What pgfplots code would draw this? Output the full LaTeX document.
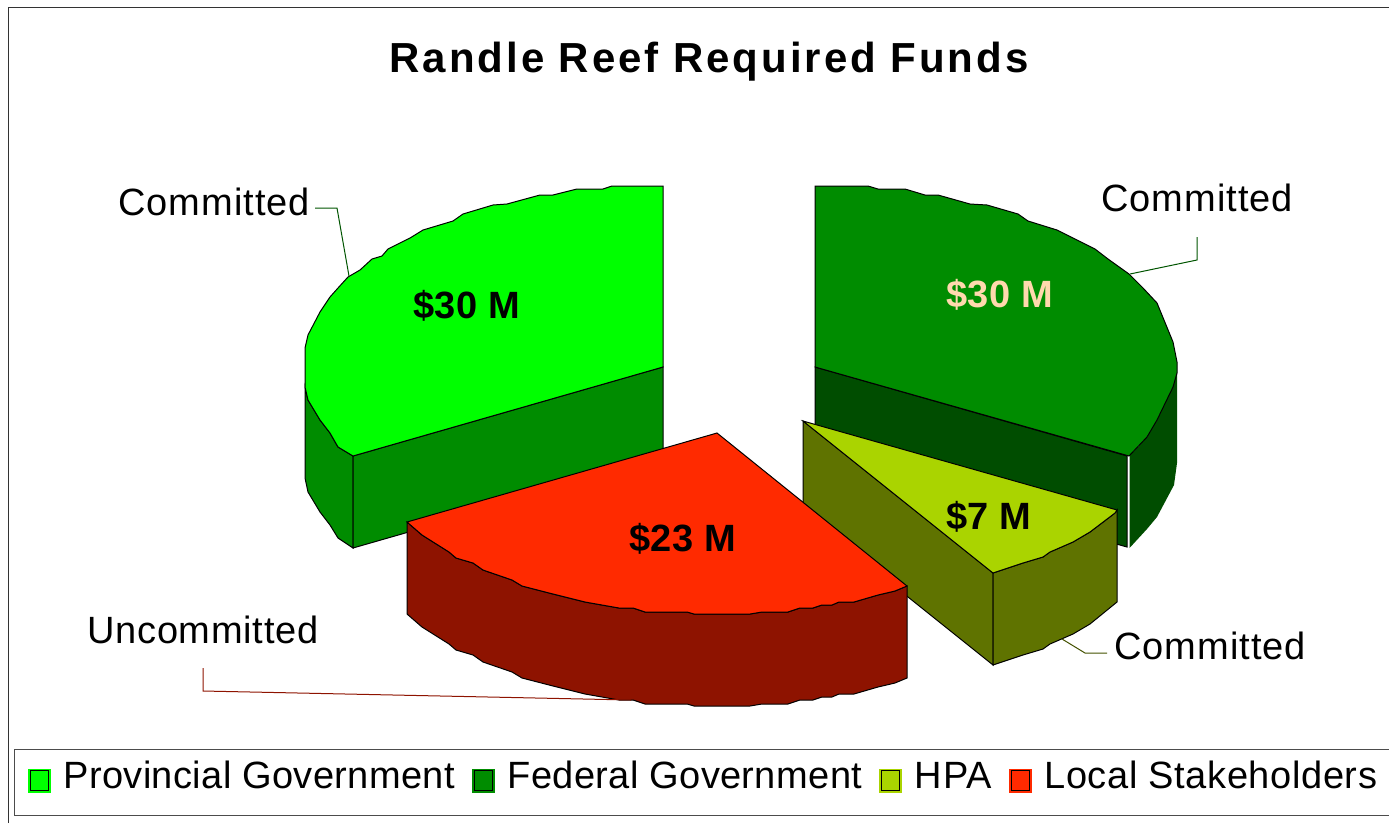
\documentclass[border=0pt]{standalone}
\usepackage{pgfplots}
\usepackage{fontspec}
\pgfplotsset{compat=1.18}
\setmainfont{Liberation Sans}

\definecolor{provtop}{HTML}{00FF00}
\definecolor{fedtop}{HTML}{008C00}
\definecolor{fedside}{HTML}{004D00}
\definecolor{hpatop}{HTML}{AAD400}
\definecolor{hpaside}{HTML}{5F7300}
\definecolor{redtop}{HTML}{FF2A00}
\definecolor{redside}{HTML}{8E1300}
\definecolor{cream}{HTML}{FFD9AE}

\newcommand{\bigfont}{\fontsize{38}{42}\selectfont\addfontfeatures{LetterSpace=2.7}}
\newcommand{\uncfont}{\fontsize{38}{42}\selectfont\addfontfeatures{LetterSpace=2}}
\newcommand{\legfont}{\fontsize{38}{42}\selectfont\addfontfeatures{LetterSpace=1}}
\newcommand{\labelfont}{\fontsize{38}{42}\selectfont\bfseries\addfontfeatures{LetterSpace=1}}
\newcommand{\titlefont}{\fontsize{42}{46}\selectfont\bfseries\addfontfeatures{LetterSpace=7}}

\pgfplotsset{
  face/.style={fill=#1,draw=black,line width=1pt},
  key/.style={
    legend image code/.code={
      \path[draw=none,fill=none] (0pt,-9.5pt) rectangle (35pt,13.5pt);
      \draw[fill=#1,draw=#1,line width=1pt] (2pt,-9.5pt) rectangle (24pt,13.5pt);
      \draw[black,fill=none,line width=0.8pt] (3.8pt,-7.7pt) rectangle (22.2pt,11.7pt);
    }
  },
}

\begin{document}
\begin{tikzpicture}
\path[use as bounding box] (0,0) rectangle (1389pt,823pt);
\begin{axis}[
  scale only axis,
  width=1389pt,
  height=823pt,
  xmin=0,xmax=1389,
  ymin=0,ymax=823,
  y dir=reverse,
  hide axis,
  clip=false,
  legend columns=4,
  legend cell align=left,
  legend style={
    at={(axis cs:14,749)},anchor=north west,
    draw=black!70,line width=1pt,
    font=\legfont,
    inner xsep=12pt,inner ysep=6pt,
    nodes={text height=31pt,text depth=19pt},
    /tikz/every even column/.append style={column sep=13.5pt},
  },
]
% frame
\addplot[forget plot,black!80,line width=1pt] coordinates {(8,823) (8,7) (1389,7)};

% provincial government
\addplot[forget plot,face=fedtop] coordinates {(305,387) (308,400) (320,420) (330,433) (338,447) (353,456) (353,548) (338,538) (330,525) (320,512) (308,492) (305,478)} --cycle;
\addplot[forget plot,face=fedtop] coordinates {(353,456) (663,367) (663,459) (353,548)} --cycle;
\addplot[key=provtop,face=provtop] coordinates {
  (663,186) (612,186) (603,189) (577,189) (553,195) (540,195) (507,204) (493,205)
  (463,214) (453,221) (423,230) (410,238) (388,249) (382,256) (372,259) (360,270)
  (348,277) (338,288) (330,297) (320,312) (308,335) (305,348) (305,387) (308,400)
  (320,420) (330,433) (338,447) (353,456) (663,367)} --cycle;
\addlegendentry{Provincial Government}

% federal government
\addplot[forget plot,face=fedside] coordinates {(815,367) (1127,456) (1127,547) (815,459)} --cycle;
\addplot[forget plot,face=fedside,draw=none] coordinates {(1129.5,456) (1147,437) (1157,420) (1173,387) (1177,373) (1177,463) (1174,485) (1157,517) (1147,529) (1129.5,548)} --cycle;
\addplot[key=fedtop,face=fedtop] coordinates {
  (815,186) (868,186) (878,189) (905,189) (925,195) (938,195) (970,204) (987,205)
  (1018,214) (1028,221) (1057,230) (1073,238) (1095,249) (1108,259) (1129,274)
  (1143,288) (1157,303) (1173,342) (1177,362) (1177,373) (1173,387) (1157,420)
  (1147,437) (1129,456) (815,367)} --cycle;
\addlegendentry{Federal Government}

% HPA
\addplot[forget plot,face=hpaside] coordinates {(803,421) (993,573) (993,665) (803,513)} --cycle;
\addplot[forget plot,face=hpaside] coordinates {(993,573) (1023,563) (1043,557) (1050,552) (1073,542) (1090,532) (1115,513) (1117,510) (1117,602) (1090,624) (1073,634) (1050,644) (1043,649) (1023,655) (993,665)} --cycle;
\addplot[key=hpatop,face=hpatop] coordinates {
  (803,421) (1117,510) (1115,513) (1090,532) (1073,542) (1050,552) (1043,557)
  (1023,563) (993,573)} --cycle;
\addlegendentry{\addfontfeatures{LetterSpace=2.5}HPA}

% local stakeholders
\addplot[forget plot,face=redside] coordinates {
  (407,522) (422,535) (449,552) (456,558) (473,563) (483,570) (512,580) (522,586)
  (553,594) (585,602) (619,608) (633,608) (645,612) (687,612) (694,614) (750,614)
  (762,612) (788,612) (800,608) (813,608) (822,605) (832,605) (839,602) (854,602)
  (878,595) (895,591) (907,586)
  (907,678) (895,683) (878,687) (854,694) (839,694) (832,697) (822,697) (813,700)
  (800,700) (788,704) (762,704) (750,706) (694,706) (687,704) (645,704) (633,700)
  (619,700) (585,694) (553,686) (522,678) (512,672) (483,662) (473,655) (456,650)
  (449,644) (422,627) (407,614)} --cycle;
\addplot[key=redtop,face=redtop] coordinates {
  (717,433) (907,586) (895,591) (878,595) (854,602) (839,602) (832,605) (822,605)
  (813,608) (800,608) (788,612) (762,612) (750,614) (694,614) (687,612) (645,612)
  (633,608) (619,608) (585,602) (553,594) (522,586) (512,580) (483,570) (473,563)
  (456,558) (449,552) (422,535) (407,522)} --cycle;
\addlegendentry{\addfontfeatures{LetterSpace=1.6}Local Stakeholders}

% leader lines
\addplot[forget plot,fedtop!60!black,line width=1pt] coordinates {(315,208) (337,208) (349,276)};
\addplot[forget plot,fedtop!60!black,line width=1pt] coordinates {(1197,237) (1197,260) (1130,274)};
\addplot[forget plot,hpaside!70!black,line width=1pt] coordinates {(1062,639) (1085,653) (1107,653)};
\addplot[forget plot,redside,line width=1pt] coordinates {(203,668) (203,691) (631,700)};

% labels
\node[anchor=base,font=\titlefont,inner sep=0pt] at (axis cs:709,72) {Randle Reef Required Funds};
\node[anchor=base west,font=\bigfont,inner sep=0pt] at (axis cs:118,215) {Committed};
\node[anchor=base west,font=\bigfont,inner sep=0pt] at (axis cs:1101,211) {Committed};
\node[anchor=base west,font=\bigfont,inner sep=0pt] at (axis cs:1114,659) {Committed};
\node[anchor=base west,font=\uncfont,inner sep=0pt] at (axis cs:87,643) {Uncommitted};
\node[anchor=base west,font=\labelfont,inner sep=0pt] at (axis cs:413,318) {\$30 M};
\node[anchor=base west,font=\labelfont,inner sep=0pt,text=cream] at (axis cs:946,307) {\$30 M};
\node[anchor=base west,font=\labelfont,inner sep=0pt] at (axis cs:946,529) {\$7 M};
\node[anchor=base west,font=\labelfont,inner sep=0pt] at (axis cs:629,551) {\$23 M};
\end{axis}
\end{tikzpicture}
\end{document}
